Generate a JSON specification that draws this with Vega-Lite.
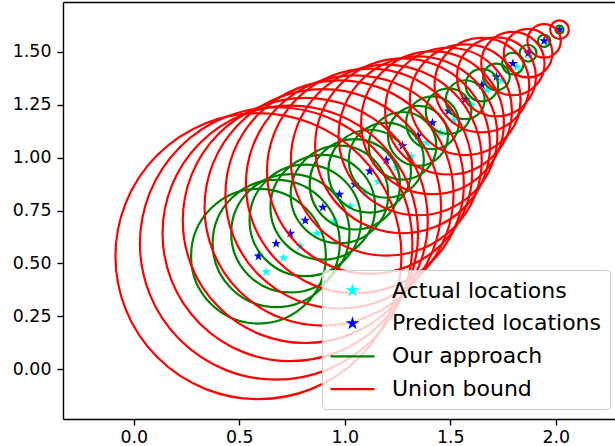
{
  "$schema": "https://vega.github.io/schema/vega-lite/v6.json",
  "autosize": {"type": "none"},
  "width": 552,
  "height": 417,
  "padding": {"left": 63, "top": 2, "right": 0, "bottom": 27},
  "background": "white",
  "datasets": {
    "stars": [
      {"series": "Actual locations", "x": 0.628, "y": 0.460},
      {"series": "Actual locations", "x": 0.710, "y": 0.526},
      {"series": "Actual locations", "x": 0.789, "y": 0.582},
      {"series": "Actual locations", "x": 0.868, "y": 0.642},
      {"series": "Actual locations", "x": 0.950, "y": 0.700},
      {"series": "Actual locations", "x": 1.026, "y": 0.771},
      {"series": "Actual locations", "x": 1.097, "y": 0.834},
      {"series": "Actual locations", "x": 1.158, "y": 0.887},
      {"series": "Actual locations", "x": 1.247, "y": 0.955},
      {"series": "Actual locations", "x": 1.316, "y": 1.006},
      {"series": "Actual locations", "x": 1.388, "y": 1.071},
      {"series": "Actual locations", "x": 1.453, "y": 1.117},
      {"series": "Actual locations", "x": 1.516, "y": 1.177},
      {"series": "Actual locations", "x": 1.603, "y": 1.248},
      {"series": "Actual locations", "x": 1.674, "y": 1.319},
      {"series": "Actual locations", "x": 1.745, "y": 1.366},
      {"series": "Actual locations", "x": 1.816, "y": 1.429},
      {"series": "Actual locations", "x": 1.879, "y": 1.485},
      {"series": "Actual locations", "x": 1.961, "y": 1.545},
      {"series": "Actual locations", "x": 2.020, "y": 1.604},
      {"series": "Predicted locations", "x": 0.591, "y": 0.534},
      {"series": "Predicted locations", "x": 0.675, "y": 0.594},
      {"series": "Predicted locations", "x": 0.742, "y": 0.642},
      {"series": "Predicted locations", "x": 0.813, "y": 0.703},
      {"series": "Predicted locations", "x": 0.896, "y": 0.765},
      {"series": "Predicted locations", "x": 0.975, "y": 0.826},
      {"series": "Predicted locations", "x": 1.048, "y": 0.874},
      {"series": "Predicted locations", "x": 1.118, "y": 0.936},
      {"series": "Predicted locations", "x": 1.197, "y": 0.988},
      {"series": "Predicted locations", "x": 1.274, "y": 1.056},
      {"series": "Predicted locations", "x": 1.347, "y": 1.103},
      {"series": "Predicted locations", "x": 1.416, "y": 1.165},
      {"series": "Predicted locations", "x": 1.492, "y": 1.220},
      {"series": "Predicted locations", "x": 1.571, "y": 1.274},
      {"series": "Predicted locations", "x": 1.650, "y": 1.343},
      {"series": "Predicted locations", "x": 1.719, "y": 1.382},
      {"series": "Predicted locations", "x": 1.797, "y": 1.445},
      {"series": "Predicted locations", "x": 1.869, "y": 1.494},
      {"series": "Predicted locations", "x": 1.945, "y": 1.552},
      {"series": "Predicted locations", "x": 2.018, "y": 1.605}
    ],
    "circles": [
      {"series": "Our approach", "x": 0.591, "y": 0.534, "radius": 0.319},
      {"series": "Our approach", "x": 0.675, "y": 0.594, "radius": 0.301},
      {"series": "Our approach", "x": 0.742, "y": 0.642, "radius": 0.280},
      {"series": "Our approach", "x": 0.813, "y": 0.703, "radius": 0.264},
      {"series": "Our approach", "x": 0.896, "y": 0.765, "radius": 0.248},
      {"series": "Our approach", "x": 0.975, "y": 0.826, "radius": 0.231},
      {"series": "Our approach", "x": 1.048, "y": 0.874, "radius": 0.214},
      {"series": "Our approach", "x": 1.118, "y": 0.936, "radius": 0.196},
      {"series": "Our approach", "x": 1.197, "y": 0.988, "radius": 0.178},
      {"series": "Our approach", "x": 1.274, "y": 1.056, "radius": 0.160},
      {"series": "Our approach", "x": 1.347, "y": 1.103, "radius": 0.142},
      {"series": "Our approach", "x": 1.416, "y": 1.165, "radius": 0.125},
      {"series": "Our approach", "x": 1.492, "y": 1.220, "radius": 0.108},
      {"series": "Our approach", "x": 1.571, "y": 1.274, "radius": 0.092},
      {"series": "Our approach", "x": 1.650, "y": 1.343, "radius": 0.077},
      {"series": "Our approach", "x": 1.719, "y": 1.382, "radius": 0.063},
      {"series": "Our approach", "x": 1.797, "y": 1.445, "radius": 0.051},
      {"series": "Our approach", "x": 1.869, "y": 1.494, "radius": 0.040},
      {"series": "Our approach", "x": 1.945, "y": 1.552, "radius": 0.029},
      {"series": "Our approach", "x": 2.018, "y": 1.605, "radius": 0.019},
      {"series": "Union bound", "x": 0.591, "y": 0.534, "radius": 0.677},
      {"series": "Union bound", "x": 0.675, "y": 0.594, "radius": 0.645},
      {"series": "Union bound", "x": 0.742, "y": 0.642, "radius": 0.605},
      {"series": "Union bound", "x": 0.813, "y": 0.703, "radius": 0.580},
      {"series": "Union bound", "x": 0.896, "y": 0.765, "radius": 0.560},
      {"series": "Union bound", "x": 0.975, "y": 0.826, "radius": 0.540},
      {"series": "Union bound", "x": 1.048, "y": 0.874, "radius": 0.516},
      {"series": "Union bound", "x": 1.118, "y": 0.936, "radius": 0.486},
      {"series": "Union bound", "x": 1.197, "y": 0.988, "radius": 0.452},
      {"series": "Union bound", "x": 1.274, "y": 1.056, "radius": 0.414},
      {"series": "Union bound", "x": 1.347, "y": 1.103, "radius": 0.376},
      {"series": "Union bound", "x": 1.416, "y": 1.165, "radius": 0.338},
      {"series": "Union bound", "x": 1.492, "y": 1.220, "radius": 0.300},
      {"series": "Union bound", "x": 1.571, "y": 1.274, "radius": 0.262},
      {"series": "Union bound", "x": 1.650, "y": 1.343, "radius": 0.224},
      {"series": "Union bound", "x": 1.719, "y": 1.382, "radius": 0.187},
      {"series": "Union bound", "x": 1.797, "y": 1.445, "radius": 0.150},
      {"series": "Union bound", "x": 1.869, "y": 1.494, "radius": 0.115},
      {"series": "Union bound", "x": 1.945, "y": 1.552, "radius": 0.079},
      {"series": "Union bound", "x": 2.018, "y": 1.605, "radius": 0.044}
    ]
  },
  "resolve": {"axis": {"x": "independent"}},
  "layer": [
    {
      "data": {"name": "stars"},
      "mark": {
        "type": "point",
        "filled": true,
        "opacity": 1,
        "size": 993,
        "strokeWidth": 0
      },
      "encoding": {
        "x": {"field": "x", "type": "quantitative", "scale": {"domain": [-0.3355, 2.281], "nice": false, "zero": false},
              "axis": {"orient": "bottom", "title": null, "values": [0, 0.5, 1, 1.5, 2], "format": ".1f"}},
        "y": {"field": "y", "type": "quantitative", "scale": {"domain": [-0.236, 1.736], "nice": false, "zero": false},
              "axis": {"orient": "left", "title": null, "values": [0, 0.25, 0.5, 0.75, 1, 1.25, 1.5], "format": ".2f"}},
        "color": {
          "field": "series", "type": "nominal",
          "scale": {"domain": ["Actual locations", "Predicted locations", "Our approach", "Union bound"],
                    "range": ["#00ffff", "#0000ff", "#008000", "#ff0000"]},
          "legend": {
            "orient": "none", "legendX": 259, "legendY": 268,
            "title": null,
            "symbolSize": 484,
            "symbolStrokeWidth": 2.2,
            "symbolOffset": 10,
            "labelFont": "DejaVu Sans", "labelFontSize": 22, "labelColor": "black",
            "labelOffset": 27, "labelLimit": 400,
            "rowPadding": 8.9,
            "padding": 8,
            "fillColor": "rgba(255,255,255,0.8)",
            "strokeColor": "#cccccc",
            "cornerRadius": 4
          }
        },
        "shape": {
          "field": "series", "type": "nominal",
          "scale": {"domain": ["Actual locations", "Predicted locations", "Our approach", "Union bound"],
                    "range": [
                      "M0,-0.33L0.0741,-0.102L0.3138,-0.102L0.1198,0.0389L0.194,0.267L0,0.126L-0.194,0.267L-0.1198,0.0389L-0.3138,-0.102L-0.0741,-0.102Z",
                      "M0,-0.33L0.0741,-0.102L0.3138,-0.102L0.1198,0.0389L0.194,0.267L0,0.126L-0.194,0.267L-0.1198,0.0389L-0.3138,-0.102L-0.0741,-0.102Z",
                      "M-2,0L2,0", "M-2,0L2,0"]},
          "legend": {
            "orient": "none", "legendX": 259, "legendY": 268,
            "title": null,
            "symbolSize": 484,
            "symbolStrokeWidth": 2.2,
            "symbolOffset": 10,
            "labelFont": "DejaVu Sans", "labelFontSize": 22, "labelColor": "black",
            "labelOffset": 27, "labelLimit": 400,
            "rowPadding": 8.9,
            "padding": 8,
            "fillColor": "rgba(255,255,255,0.8)",
            "strokeColor": "#cccccc",
            "cornerRadius": 4
          }
        }
      }
    },
    {
      "data": {"name": "circles"},
      "mark": {"type": "point", "shape": "circle", "filled": false, "opacity": 1, "strokeWidth": 2.2},
      "encoding": {
        "x": {"field": "x", "type": "quantitative",
              "axis": {"orient": "top", "title": null, "labels": false, "ticks": false}},
        "y": {"field": "y", "type": "quantitative",
              "axis": {"orient": "left", "title": null, "values": [0, 0.25, 0.5, 0.75, 1, 1.25, 1.5], "format": ".2f"}},
        "color": {"field": "series", "type": "nominal"},
        "size": {"field": "radius", "type": "quantitative",
                 "scale": {"type": "pow", "exponent": 2, "domain": [0, 1], "range": [0, 178422]},
                 "legend": null}
      }
    }
  ],
  "config": {
    "view": {"stroke": null},
    "axis": {
      "grid": false,
      "labelFont": "DejaVu Sans", "labelFontSize": 17.4, "labelColor": "black",
      "tickColor": "black", "tickSize": 6, "tickWidth": 1.4,
      "domainColor": "black", "domainWidth": 1.4,
      "labelPadding": 6
    },
    "axisX": {"labelPadding": 3}
  }
}
